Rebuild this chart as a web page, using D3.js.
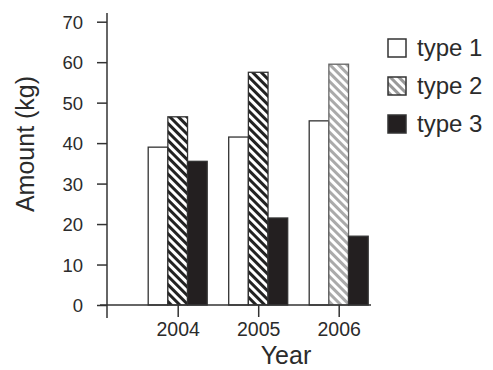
<!DOCTYPE html>
<html><head><meta charset="utf-8">
<script src="https://cdn.jsdelivr.net/npm/d3@7"></script>
<style>
html,body{margin:0;padding:0;background:#fff;}
svg{display:block;}
text{font-family:"Liberation Sans",Arial,Helvetica,sans-serif;fill:#2b2b2b;}
</style></head>
<body>
<svg id="chart" width="493" height="370"></svg>
<script>
const years = ["2004", "2005", "2006"];
const types = ["type 1", "type 2", "type 3"];
const type1 = [39, 41.5, 45.5];
const type2 = [46.5, 57.5, 59.5];
const type3 = [35.5, 21.5, 17];
const yTicks = [0, 10, 20, 30, 40, 50, 60, 70];
const yLabel = "Amount (kg)";
const xLabel = "Year";

const series = [type1, type2, type3];
const svg = d3.select("#chart");
const defs = svg.append("defs");

function stripe(id, color, bg) {
  const p = defs.append("pattern").attr("id", id)
    .attr("patternUnits", "userSpaceOnUse").attr("width", 6).attr("height", 6)
    .attr("patternTransform", "rotate(-45)");
  p.append("rect").attr("width", 6).attr("height", 6).attr("fill", bg);
  p.append("rect").attr("width", 3).attr("height", 6).attr("fill", color);
}
stripe("hatchDark", "#222", "#fff");
stripe("hatchLight", "#aaa", "#fff");
stripe("hatchLegend", "#999", "#fff");

const axisX = 107, baseY = 305;
const y = d3.scaleLinear().domain([0, 70]).range([baseY, 21.7]);
const x = d3.scalePoint().domain(years).range([177.7, 338.7]);
const xs = d3.scaleBand().domain(types).range([-29.5, 29.5]);

const fills = (ti, yi) => {
  if (ti === 0) return "#fff";
  if (ti === 2) return "#231f20";
  return yi === years.length - 1 ? "url(#hatchLight)" : "url(#hatchDark)";
};

// bars
types.forEach((t, ti) => {
  svg.append("g").selectAll("rect").data(series[ti]).join("rect")
    .attr("x", (d, i) => x(years[i]) + xs(t))
    .attr("y", d => y(d))
    .attr("width", xs.bandwidth())
    .attr("height", d => baseY - y(d))
    .attr("fill", (d, i) => fills(ti, i))
    .attr("stroke", (d, i) => (ti === 1 && i === years.length - 1) ? "#666" : "#333")
    .attr("stroke-width", 1.3);
});

// y axis
const yAxis = d3.axisLeft(y).tickValues(yTicks).tickSize(10).tickPadding(14).tickFormat(d3.format("d"));
const gy = svg.append("g").attr("transform", `translate(${axisX},0)`).call(yAxis);
gy.select(".domain").remove();
gy.selectAll(".tick line").attr("stroke", "#333").attr("stroke-width", 1.5);
gy.selectAll(".tick text").attr("font-size", 18.5).attr("fill", "#2b2b2b")
  .attr("font-family", "Liberation Sans, Arial, sans-serif").attr("dy", "0.35em");
gy.append("line").attr("x1", 0).attr("x2", 0).attr("y1", 13).attr("y2", 318)
  .attr("stroke", "#333").attr("stroke-width", 1.5);

// x axis
const xAxis = d3.axisBottom(x).tickSize(12).tickPadding(5);
const gx = svg.append("g").attr("transform", `translate(0,${baseY})`).call(xAxis);
gx.select(".domain").remove();
gx.append("line").attr("x1", 100).attr("x2", 371).attr("y1", 0).attr("y2", 0)
  .attr("stroke", "#333").attr("stroke-width", 1.5);
gx.selectAll(".tick line").attr("stroke", "#333").attr("stroke-width", 1.5);
gx.selectAll(".tick text").attr("font-size", 19.5).attr("fill", "#2b2b2b")
  .attr("font-family", "Liberation Sans, Arial, sans-serif");

// axis titles
svg.append("text").attr("x", 286).attr("y", 364).attr("text-anchor", "middle")
  .attr("font-size", 25).text(xLabel);
svg.append("text").attr("transform", "translate(34,144) rotate(-90)")
  .attr("text-anchor", "middle").attr("font-size", 25).text(yLabel);

// legend
const legFill = ["#fff", "url(#hatchLegend)", "#231f20"];
const lg = svg.append("g").selectAll("g").data(types).join("g")
  .attr("transform", (d, i) => `translate(388,${39 + i * 38})`);
lg.append("rect").attr("width", 18).attr("height", 18)
  .attr("fill", (d, i) => legFill[i]).attr("stroke", "#333").attr("stroke-width", 1.5);
lg.append("text").attr("x", 29).attr("y", 17).attr("font-size", 24).text(d => d);
</script>
</body></html>
